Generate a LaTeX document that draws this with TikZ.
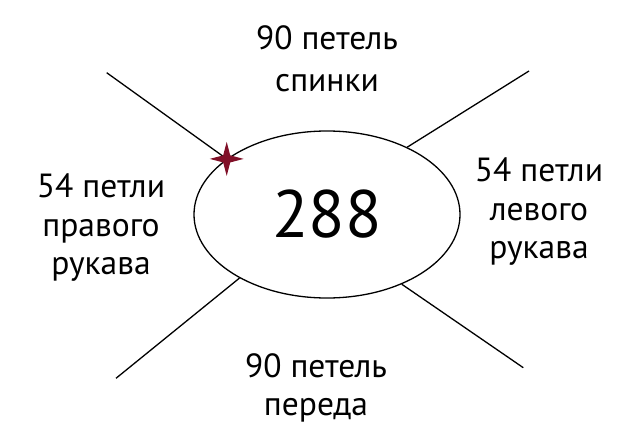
\documentclass[tikz,border=0pt]{standalone}
\usepackage{fontspec}
\setmainfont{PT Sans}
\usetikzlibrary{shapes.geometric}
\definecolor{starred}{RGB}{128,16,40}

\begin{document}
\begin{tikzpicture}[x=1pt,y=-1pt,line width=1.3pt,
    lbl/.style={align=center,inner sep=0pt,font=\fontsize{33.5}{38.5}\selectfont}]
    \useasboundingbox (0,0) rectangle (640,444);
    \node[ellipse,draw,minimum width=266pt,minimum height=167pt,inner sep=0pt,
          font=\fontsize{67}{67}\selectfont] (sum) at (327,214.5) {288};
    \node[lbl] (back)   at (327,59)  {90 петель\\[3.5pt]спинки};
    \node[lbl] (right)  at (101,228) {54 петли\\правого\\рукава};
    \node[lbl] (left)   at (539,212) {54 петли\\левого\\рукава};
    \node[lbl] (front)  at (316,388) {90 петель\\переда};
    \coordinate (ul) at (106.7,72.7);
    \coordinate (ur) at (529,71);
    \coordinate (ll) at (116,378.3);
    \coordinate (lr) at (523.3,367.7);
    \draw (ul) -- (sum.151);
    \draw (ur) -- (sum.40);
    \draw (ll) -- (sum.216);
    \draw (lr) -- (sum.317);
    \node[star,star points=4,star point ratio=3.4,minimum size=34pt,
          inner sep=0pt,fill=starred] (mark) at (sum.151) {};
\end{tikzpicture}
\end{document}
